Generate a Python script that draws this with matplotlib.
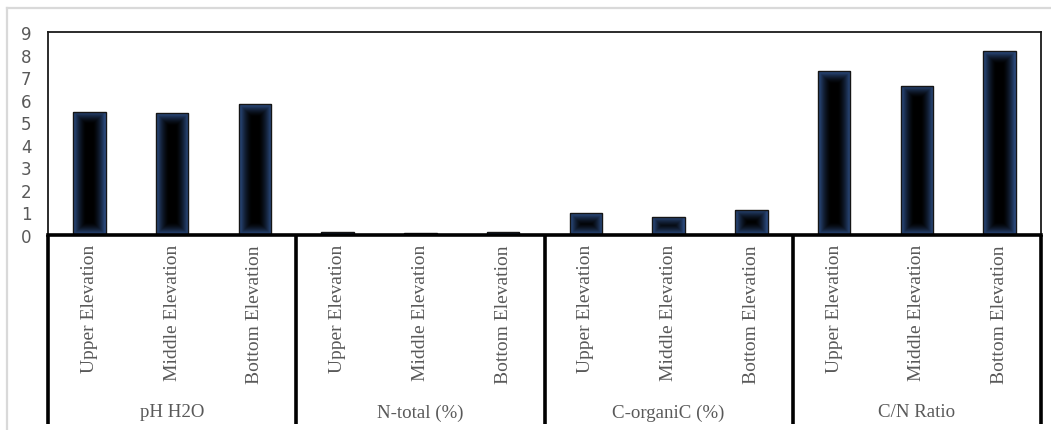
import numpy as np
import matplotlib
matplotlib.use("Agg")
import matplotlib.pyplot as plt
from matplotlib.transforms import blended_transform_factory
from matplotlib.lines import Line2D

# Soil properties by elevation
groups = ["pH H2O", "N-total (%)", "C-organiC (%)", "C/N Ratio"]
elevations = ["Upper Elevation", "Middle Elevation", "Bottom Elevation"]
ph_h2o = [5.47, 5.40, 5.79]
n_total = [0.12, 0.11, 0.12]
c_organic = [0.97, 0.81, 1.13]
cn_ratio = [7.25, 6.62, 8.15]
y_ticks = [0, 1, 2, 3, 4, 5, 6, 7, 8, 9]

values = ph_h2o + n_total + c_organic + cn_ratio
labels = elevations * len(groups)
x = np.arange(len(values))

W, H, DPI = 1051, 431, 100
fig = plt.figure(figsize=(W / DPI, H / DPI), dpi=DPI)
fig.patch.set_facecolor("white")

ax_l, ax_r, ax_t, ax_b = 48, 1041, 33, 236
ax = fig.add_axes([ax_l / W, (H - ax_b) / H, (ax_r - ax_l) / W, (ax_b - ax_t) / H])
ax.set_xlim(-0.5, len(values) - 0.5)
ax.set_ylim(0, 9)
ax.set_autoscale_on(False)

bar_w = 0.39
edge_blue = np.array([0.19, 0.33, 0.56])
px_x = (ax_r - ax_l) / len(values)
px_y = (ax_b - ax_t) / 9.0

bars = ax.bar(x, values, width=bar_w, facecolor="none", edgecolor="#151515",
              linewidth=1.0, zorder=3)

# Path gradient fill: blue at the edges fading to black inside
for rect, v in zip(bars, values):
    x0 = rect.get_x()
    wpx = bar_w * px_x
    hpx = max(v * px_y, 0.5)
    nx = max(int(wpx * 3), 2)
    ny = max(int(hpx * 3), 2)
    gx = (np.arange(nx) + 0.5) / nx * wpx
    gy = (np.arange(ny) + 0.5) / ny * hpx
    X, Y = np.meshgrid(gx, gy)
    d = np.minimum(np.minimum(X, wpx - X), np.minimum(Y, hpx - Y))
    t = np.clip(d / 13.0, 0, 1)
    f = (1 - t) ** 1.6
    img = f[..., None] * edge_blue[None, None, :]
    im = ax.imshow(img, extent=[x0, x0 + bar_w, 0, v], origin="lower",
                   aspect="auto", interpolation="bilinear", zorder=2)
    im.set_clip_path(rect)

ax.set_xlim(-0.5, len(values) - 0.5)
ax.set_ylim(0, 9)

for side in ["top", "right", "left"]:
    ax.spines[side].set_linewidth(1.3)
    ax.spines[side].set_color("#1a1a1a")
ax.spines["bottom"].set_linewidth(2.6)
ax.spines["bottom"].set_color("black")
ax.spines["bottom"].set_zorder(5)

ax.set_xticks([])
ax.set_yticks(y_ticks)
ax.tick_params(axis="y", length=0, pad=12, labelsize=12, labelcolor="#595959")

# Two-level category axis
trans = blended_transform_factory(ax.transData, ax.transAxes)
y_bot = (ax_b - 425) / (ax_b - ax_t)
for b in [-0.5, 2.5, 5.5, 8.5, 11.5]:
    ax.add_line(Line2D([b, b], [0, y_bot], transform=trans, color="black",
                       linewidth=2.6, clip_on=False, solid_capstyle="butt"))

y_lab = (ax_b - 245) / (ax_b - ax_t)
for xi, lab in zip(x, labels):
    ax.text(xi, y_lab, lab, transform=trans, rotation=90, ha="center", va="top",
            fontsize=14, family="Liberation Serif", color="#595959")

y_grp = (ax_b - 413) / (ax_b - ax_t)
for gi, g in enumerate(groups):
    ax.text(gi * 3 + 1, y_grp, g, transform=trans, ha="center", va="center",
            fontsize=13.6, family="Liberation Serif", color="#595959")

# Light chart-area border
fig.add_artist(Line2D([7 / W, 7 / W], [0, 1 - 9 / H], color="#d9d9d9", linewidth=1.6))
fig.add_artist(Line2D([7 / W, 1], [1 - 9 / H, 1 - 9 / H], color="#d9d9d9", linewidth=1.6))

fig.savefig("out.png", dpi=DPI, facecolor="white")
